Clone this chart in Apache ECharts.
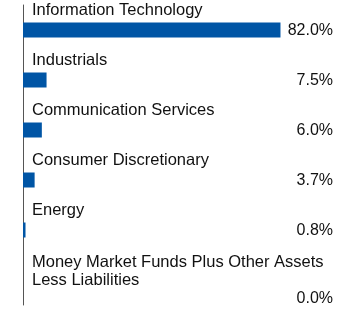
<!DOCTYPE html>
<html>
<head>
<meta charset="utf-8">
<script src="https://cdn.jsdelivr.net/npm/echarts@6/dist/echarts.min.js"></script>
<style>
  html, body { margin: 0; padding: 0; background: #fff; }
  #chart { width: 360px; height: 316px; }
</style>
</head>
<body>
<div id="chart"></div>
<script>
  // sector weights, in percent
  const sectors = [
    'Information Technology',
    'Industrials',
    'Communication Services',
    'Consumer Discretionary',
    'Energy',
    'Money Market Funds Plus Other Assets\nLess Liabilities'
  ];
  const weights = [82.0, 7.5, 6.0, 3.7, 0.8, 0.0];
  const axisMax = 100;

  const chart = echarts.init(document.getElementById('chart'));
  const lastIdx = sectors.length - 1;
  const font = 'Liberation Sans, Arial, sans-serif';

  // invisible full-width bars, used only to carry text labels
  function labelSeries(labelOpt, lastOffset, otherOffset) {
    return {
      type: 'bar',
      data: sectors.map((s, i) => ({
        value: axisMax,
        label: { offset: i === lastIdx ? lastOffset : otherOffset }
      })),
      barWidth: 15,
      barGap: '-100%',
      itemStyle: { color: 'rgba(0,0,0,0)' },
      silent: true,
      label: Object.assign({
        show: true,
        color: '#111',
        fontFamily: font
      }, labelOpt)
    };
  }

  const option = {
    animation: false,
    grid: { left: 23, right: 23, top: 5, height: 300 },
    xAxis: { type: 'value', min: 0, max: axisMax, show: false },
    yAxis: {
      type: 'category',
      inverse: true,
      data: sectors,
      axisLine: { show: true, lineStyle: { color: '#555', width: 1 } },
      axisTick: { show: false },
      axisLabel: { show: false }
    },
    series: [
      {
        type: 'bar',
        data: weights,
        barWidth: 15,
        itemStyle: { color: '#0055a5' },
        silent: true
      },
      // sector names, above each bar
      labelSeries({
        position: 'insideLeft',
        distance: 9,
        fontSize: 16.5,
        lineHeight: 18,
        formatter: p => sectors[p.dataIndex]
      }, [0, -9], [0, -20]),
      // values, right-aligned at the edge
      labelSeries({
        position: 'insideRight',
        distance: 4,
        fontSize: 16,
        formatter: p => weights[p.dataIndex].toFixed(1) + '%'
      }, [0, 19], [0, 1])
    ]
  };
  chart.setOption(option);
</script>
</body>
</html>
